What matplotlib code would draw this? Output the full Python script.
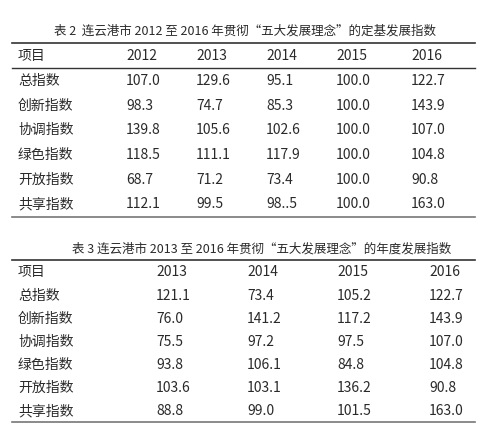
import matplotlib
matplotlib.use("Agg")
import matplotlib.pyplot as plt

plt.rcParams['font.family'] = ['Noto Sans CJK SC', 'DejaVu Sans']

rows = ["总指数", "创新指数", "协调指数", "绿色指数", "开放指数", "共享指数"]

years2 = ["2012", "2013", "2014", "2015", "2016"]
t2_2012 = ["107.0", "98.3", "139.8", "118.5", "68.7", "112.1"]
t2_2013 = ["129.6", "74.7", "105.6", "111.1", "71.2", "99.5"]
t2_2014 = ["95.1", "85.3", "102.6", "117.9", "73.4", "98..5"]
t2_2015 = ["100.0", "100.0", "100.0", "100.0", "100.0", "100.0"]
t2_2016 = ["122.7", "143.9", "107.0", "104.8", "90.8", "163.0"]

years3 = ["2013", "2014", "2015", "2016"]
t3_2013 = ["121.1", "76.0", "75.5", "93.8", "103.6", "88.8"]
t3_2014 = ["73.4", "141.2", "97.2", "106.1", "103.1", "99.0"]
t3_2015 = ["105.2", "117.2", "97.5", "84.8", "136.2", "101.5"]
t3_2016 = ["122.7", "143.9", "107.0", "104.8", "90.8", "163.0"]

title2 = "表 2  连云港市 2012 至 2016 年贯彻“五大发展理念”的定基发展指数"
title3 = "表 3 连云港市 2013 至 2016 年贯彻“五大发展理念”的年度发展指数"

W, H = 482, 430
fig = plt.figure(figsize=(W / 100, H / 100), dpi=100)
ax = fig.add_axes([0, 0, 1, 1])
ax.set_xlim(0, W)
ax.set_ylim(H, 0)
ax.axis("off")

fs = 10
col = "#2a2a2a"


def draw_table(title, tx, ty, top, header_y, row_ys, bottom, xs, years, cols, underline=None):
    ax.text(tx, ty, title, ha="center", va="center", fontsize=9, color=col)
    ax.plot([12, 475], [top, top], color="#333333", lw=1.2)
    ax.text(18, header_y, "项目", ha="left", va="center", fontsize=fs, color=col)
    for x, y in zip(xs, years):
        ax.text(x, header_y, y, ha="left", va="center", fontsize=fs, color=col)
    if underline is not None:
        ax.plot([12, 475], [underline, underline], color="#333333", lw=1.0)
    for i, (r, ry) in enumerate(zip(rows, row_ys)):
        ax.text(18, ry, r, ha="left", va="center", fontsize=fs, color=col)
        for x, c in zip(xs, cols):
            ax.text(x, ry, c[i], ha="left", va="center", fontsize=fs, color=col)
    ax.plot([12, 475], [bottom, bottom], color="#777777", lw=1.2)


draw_table(title2, 245, 31, 43, 56, [81, 106, 130, 155, 180, 204], 217,
           [126, 196, 266, 336, 411], years2,
           [t2_2012, t2_2013, t2_2014, t2_2015, t2_2016], underline=68)

draw_table(title3, 262, 249, 260, 272, [296, 319, 342, 365, 388, 411], 422,
           [156, 247, 337, 429], years3,
           [t3_2013, t3_2014, t3_2015, t3_2016])

fig.savefig("out.png", dpi=100)
